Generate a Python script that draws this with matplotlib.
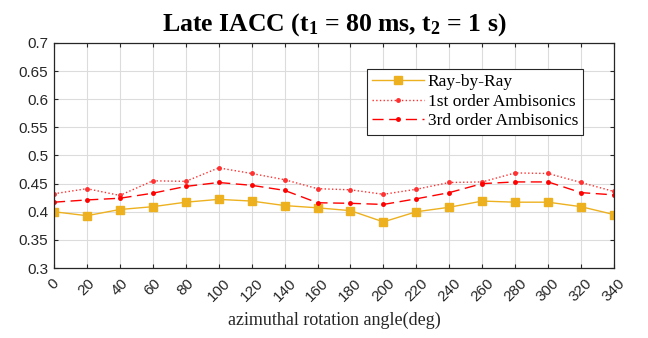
import matplotlib
matplotlib.use("Agg")
import matplotlib.pyplot as plt
import numpy as np

plt.rcParams["mathtext.fontset"] = "custom"
plt.rcParams["mathtext.rm"] = "Liberation Serif:bold"
plt.rcParams["mathtext.it"] = "Liberation Serif:bold"
plt.rcParams["mathtext.bf"] = "Liberation Serif:bold"

angles = list(range(0, 360, 20))
ray_by_ray = [0.400, 0.393, 0.404, 0.409, 0.417, 0.422, 0.419, 0.411, 0.407,
              0.402, 0.382, 0.400, 0.408, 0.419, 0.417, 0.417, 0.409, 0.395]
first_order = [0.432, 0.441, 0.429, 0.455, 0.454, 0.478, 0.468, 0.457, 0.441,
               0.439, 0.431, 0.440, 0.452, 0.453, 0.469, 0.468, 0.452, 0.436]
third_order = [0.417, 0.421, 0.424, 0.433, 0.445, 0.452, 0.447, 0.438, 0.416,
               0.415, 0.413, 0.423, 0.434, 0.450, 0.453, 0.453, 0.434, 0.430]
yticks = [0.3, 0.35, 0.4, 0.45, 0.5, 0.55, 0.6, 0.65, 0.7]
ytick_labels = ["0.3", "0.35", "0.4", "0.45", "0.5", "0.55", "0.6", "0.65", "0.7"]

fig = plt.figure(figsize=(6.48, 3.38), dpi=100)
ax = fig.add_axes([0.0833, 0.207, 0.8642, 0.666])

ax.plot(angles, ray_by_ray, color="#EDB120", marker="s", markersize=5.5,
        linewidth=1.0, label="Ray-by-Ray")
ax.plot(angles, first_order, color="#FF3030", linestyle=":", marker=".",
        markersize=5, linewidth=1.0, label="1st order Ambisonics")
ax.plot(angles, third_order, color="#FF0000", linestyle=(0, (8, 4)), marker=".",
        markersize=5, linewidth=1.0, label="3rd order Ambisonics")

ax.set_xlim(0, 340)
ax.set_ylim(0.3, 0.7)
ax.set_xticks(angles)
ax.set_xticklabels([str(a) for a in angles], rotation=45, ha="center", fontsize=11,
                   family="Liberation Sans", color="#262626")
ax.set_yticks(yticks)
ax.set_yticklabels(ytick_labels, fontsize=11, family="Liberation Sans", color="#262626")
ax.grid(True, color="#DCDCDC", linewidth=0.8)
ax.set_axisbelow(True)
ax.tick_params(direction="in", length=3, color="#262626", top=True, right=True,
               labeltop=False, labelright=False)
ax.tick_params(axis="x", pad=6)
ax.tick_params(axis="y", pad=4)
for s in ax.spines.values():
    s.set_color("#262626")
    s.set_linewidth(0.9)

ax.set_title("Late IACC ($\\mathrm{t_1}$ = 80 ms, $\\mathrm{t_2}$ = 1 s)", fontsize=18.5,
             fontweight="bold", family="Liberation Serif", pad=9)
ax.set_xlabel("azimuthal rotation angle(deg)", fontsize=13, family="Liberation Serif",
              labelpad=5, color="#262626")

leg = ax.legend(loc="upper right", bbox_to_anchor=(0.945, 0.885),
                prop={"family": "Liberation Serif", "size": 12.5},
                fancybox=False, edgecolor="#262626", framealpha=1,
                borderpad=0.3, labelspacing=0.2, handlelength=3.0, handletextpad=0.2,
                borderaxespad=0)
leg.get_frame().set_linewidth(0.8)

fig.savefig("out.png", dpi=100)
